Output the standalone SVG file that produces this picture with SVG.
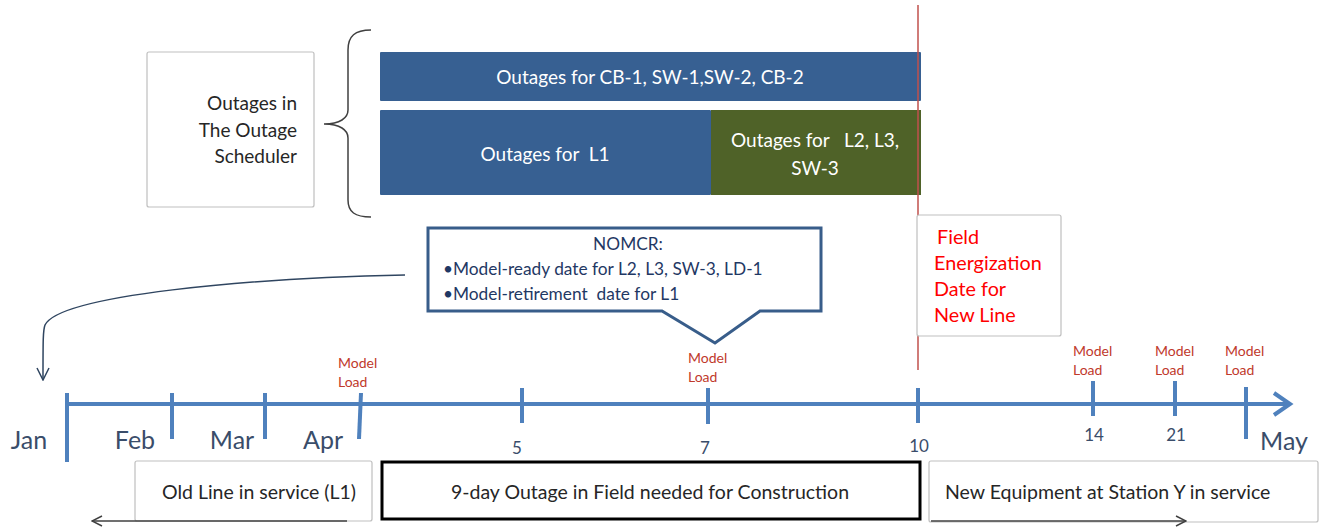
<svg xmlns="http://www.w3.org/2000/svg" width="1331" height="531" viewBox="0 0 1331 531">
<style>
text{font-family:Lato,"Liberation Sans",sans-serif}
.box{fill:#fff;stroke:#bfbfbf;stroke-width:1.2}
.dark{fill:#262626;font-size:19.5px}
.lbl{fill:#262626;font-size:19px}
.wt{fill:#fff;font-size:19px}
.red{fill:#ff0000;font-size:19.8px}
.mon{fill:#3a4d6a;font-size:25px}
.num{fill:#3a4d6a;font-size:17px}
.ml{fill:#c0392b;font-size:14px}
.tick{stroke:#4f81bd;stroke-width:4}
.nav{fill:#1f3864;font-size:17.3px}
</style>
<defs>
<marker id="openL" viewBox="0 0 12 12" refX="11" refY="6" markerWidth="12" markerHeight="12" markerUnits="userSpaceOnUse" orient="auto">
<path d="M1,1 L11,6 L1,11" fill="none" stroke="#404040" stroke-width="1.5"/>
</marker>
<marker id="openC" viewBox="0 0 14 14" refX="13" refY="7" markerWidth="14" markerHeight="14" markerUnits="userSpaceOnUse" orient="auto">
<path d="M1,1 L13,7 L1,13" fill="none" stroke="#2f4560" stroke-width="1.5"/>
</marker>
</defs>

<g id="scheduler-label">
<rect class="box" x="147" y="52" width="167" height="155" rx="2"/>
<text class="lbl" x="297" y="110" text-anchor="end">Outages in</text>
<text class="lbl" x="297" y="137" text-anchor="end">The Outage</text>
<text class="lbl" x="297" y="163" text-anchor="end">Scheduler</text>
</g>

<g id="brace">
<path d="M371,30 C355,30 348,36 348,50 L348,110 C348,118 340,124 324,124 C340,124 348,130 348,138 L348,200 C348,212 355,217 371,217" fill="none" stroke="#404040" stroke-width="1.5"/>
</g>

<g id="bar-cb">
<rect x="380" y="52" width="541" height="49" rx="1" fill="#376092"/>
<text class="wt" x="650" y="84" text-anchor="middle">Outages for CB-1, SW-1,SW-2, CB-2</text>
</g>

<g id="bar-l1">
<rect x="380" y="110" width="331" height="85" rx="1" fill="#376092"/>
<text class="wt" x="545" y="161" text-anchor="middle" xml:space="preserve">Outages for  L1</text>
</g>

<g id="bar-l2">
<rect x="711" y="110" width="210" height="85" fill="#4f6228"/>
<text class="wt" x="815" y="147" text-anchor="middle" xml:space="preserve">Outages for   L2, L3,</text>
<text class="wt" x="815" y="175" text-anchor="middle">SW-3</text>
</g>

<g id="energization-line">
<line x1="918" y1="5" x2="918" y2="370" stroke="#c0504d" stroke-width="1.5"/>
</g>

<g id="field-energization">
<rect class="box" x="917" y="215" width="144" height="121" rx="2"/>
<text class="red" x="937" y="244">Field</text>
<text class="red" x="934" y="270">Energization</text>
<text class="red" x="934" y="296">Date for</text>
<text class="red" x="934" y="322">New Line</text>
</g>

<g id="nomcr">
<path d="M428,228 L821,228 L821,311 L760,311 L715,343 L662,311 L428,311 Z" fill="#fff" stroke="#385d8a" stroke-width="3" stroke-linejoin="miter"/>
<text class="nav" x="628" y="250" text-anchor="middle">NOMCR:</text>
<text class="nav" x="443" y="275">•Model-ready date for L2, L3, SW-3, LD-1</text>
<text class="nav" x="443" y="300" xml:space="preserve">•Model-retirement  date for L1</text>
</g>

<g id="timeline">
<line x1="66" y1="404" x2="1288" y2="404" stroke="#4f81bd" stroke-width="4"/>
<path d="M1274,393 L1290,404 L1274,415" fill="none" stroke="#4f81bd" stroke-width="4"/>
<line class="tick" x1="67" y1="393" x2="67" y2="462"/>
<line class="tick" x1="172" y1="393" x2="172" y2="439"/>
<line class="tick" x1="265" y1="393" x2="265" y2="439"/>
<line class="tick" x1="361" y1="393" x2="359" y2="439"/>
<line class="tick" x1="522" y1="388" x2="522" y2="423"/>
<line class="tick" x1="708" y1="388" x2="708" y2="424"/>
<line class="tick" x1="918" y1="388" x2="918" y2="423"/>
<line class="tick" x1="1093" y1="381" x2="1093" y2="416"/>
<line class="tick" x1="1175" y1="381" x2="1175" y2="416"/>
<line class="tick" x1="1246" y1="387" x2="1246" y2="439"/>
<text class="mon" x="29" y="449" text-anchor="middle">Jan</text>
<text class="mon" x="135" y="449" text-anchor="middle">Feb</text>
<text class="mon" x="232" y="449" text-anchor="middle">Mar</text>
<text class="mon" x="323" y="449" text-anchor="middle">Apr</text>
<text class="mon" x="1284" y="450" text-anchor="middle">May</text>
<text class="num" x="517" y="454" text-anchor="middle">5</text>
<text class="num" x="705" y="454" text-anchor="middle">7</text>
<text class="num" x="919" y="452" text-anchor="middle">10</text>
<text class="num" x="1094" y="441" text-anchor="middle">14</text>
<text class="num" x="1176" y="441" text-anchor="middle">21</text>
<text class="ml" x="338" y="368">Model</text>
<text class="ml" x="338" y="387">Load</text>
<text class="ml" x="688" y="363">Model</text>
<text class="ml" x="688" y="382">Load</text>
<text class="ml" x="1073" y="356">Model</text>
<text class="ml" x="1073" y="375">Load</text>
<text class="ml" x="1155" y="356">Model</text>
<text class="ml" x="1155" y="375">Load</text>
<text class="ml" x="1225" y="356">Model</text>
<text class="ml" x="1225" y="375">Load</text>
</g>

<g id="old-line">
<rect class="box" x="135" y="461" width="237" height="60" rx="2"/>
<text class="dark" x="259" y="499" text-anchor="middle">Old Line in service (L1)</text>
</g>

<g id="outage-field">
<rect x="382" y="462" width="538" height="57" fill="#fff" stroke="#000" stroke-width="3"/>
<text class="dark" x="650" y="499" text-anchor="middle">9-day Outage in Field needed for Construction</text>
</g>

<g id="new-equipment">
<rect class="box" x="929" y="461" width="389" height="61" rx="2"/>
<text class="dark" x="945" y="499">New Equipment at Station Y in service</text>
</g>

<g id="connectors">
<path d="M405,275 C250,278 60,295 45,325 C43,330 43,340 43,380" fill="none" stroke="#2f4560" stroke-width="1.5" marker-end="url(#openC)"/>
<line x1="347" y1="521" x2="92" y2="521" stroke="#404040" stroke-width="1.5" marker-end="url(#openL)"/>
<line x1="931" y1="521" x2="1186" y2="521" stroke="#404040" stroke-width="1.5" marker-end="url(#openL)"/>
</g>
</svg>
